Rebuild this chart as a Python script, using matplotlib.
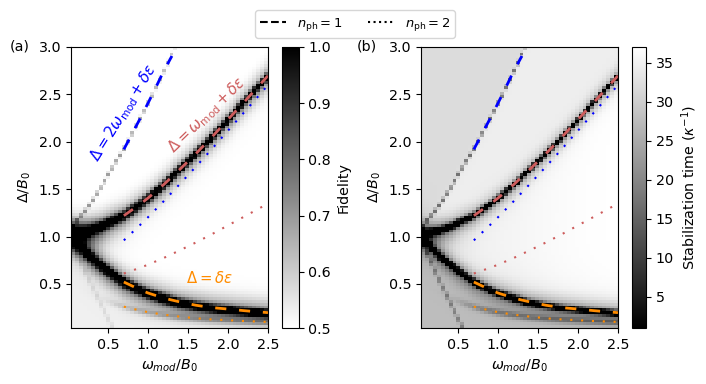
import numpy as np
import matplotlib
matplotlib.use('Agg')
from matplotlib import pyplot as plt
from matplotlib.lines import Line2D

# resonance ridges (Delta/B0 at each omega_mod/B0)
w_ridge = [0.05, 0.125, 0.25, 0.42, 0.58, 0.7, 0.8, 0.9, 1.0, 1.2, 1.4, 1.6, 1.8, 2.0, 2.2, 2.5]
ridge_n0 = [1.0, 0.93, 0.81, 0.69, 0.595, 0.52, 0.475, 0.435, 0.40, 0.345, 0.30, 0.27, 0.245, 0.228, 0.212, 0.19]
ridge_n1 = [1.03, 1.045, 1.06, 1.11, 1.175, 1.22, 1.28, 1.34, 1.405, 1.55, 1.71, 1.875, 2.05, 2.235, 2.418, 2.697]
ridge_n2 = [1.08, 1.18, 1.31, 1.53, 1.755, 1.92, 2.08, 2.24, 2.405, 2.75, 3.11, 3.475, 3.85, 4.235, 4.62, 5.2]
ridge_m1 = [0.95, 0.805, 0.56, 0.27, 0.015, -0.18, -0.32, -0.46, -0.6, -0.85, -1.1, -1.33, -1.55, -1.77, -1.98, -2.3]

# overlaid resonance conditions
w_line = [0.7, 0.8, 0.9, 1.0, 1.2, 1.4, 1.6, 1.8, 2.0, 2.2, 2.35, 2.5]
orange_dash = [0.52, 0.48, 0.44, 0.405, 0.35, 0.31, 0.275, 0.25, 0.235, 0.218, 0.207, 0.197]
red_dash = [1.22, 1.28, 1.34, 1.405, 1.55, 1.71, 1.875, 2.05, 2.235, 2.418, 2.557, 2.697]
orange_dot = [0.26, 0.24, 0.22, 0.2025, 0.175, 0.155, 0.1375, 0.125, 0.1175, 0.109, 0.1035, 0.0985]
red_dot = [0.61, 0.64, 0.67, 0.7025, 0.775, 0.855, 0.9375, 1.025, 1.1175, 1.209, 1.2785, 1.3485]
blue_dot = [0.96, 1.04, 1.12, 1.2025, 1.375, 1.555, 1.7375, 1.925, 2.1175, 2.309, 2.4535, 2.5985]
w_blue = [0.7, 0.8, 0.9, 1.0, 1.1, 1.2, 1.3]
blue_dash = [1.92, 2.08, 2.24, 2.405, 2.575, 2.75, 2.905]

# grid of the simulation maps
w_edges = np.linspace(0.04, 2.5, 51)
d_edges = np.linspace(0.035, 3.0, 101)


def gauss(d, s):
    return np.exp(-0.5*(d/s)**2)


def tail(d, s):
    return np.where(d > 0, np.exp(-np.clip(d, 0, None)/s), 0.)


def step(d, s=0.03):
    return 1./(1.+np.exp(-d/s))


def darkness(panel):
    ''' darkness (0 white .. 1 black) of the map, built around the ridges '''
    wc = 0.5*(w_edges[1:]+w_edges[:-1])
    dc = 0.5*(d_edges[1:]+d_edges[:-1])
    W, D = np.meshgrid(wc, dc)
    r0 = np.interp(W, w_ridge, ridge_n0)
    r1 = np.interp(W, w_ridge, ridge_n1)
    r2 = np.interp(W, w_ridge, ridge_n2)
    rm = np.interp(W, w_ridge, ridge_m1)
    sc = np.interp(W, [0.05, 0.7, 2.5], [0.04, 0.035, 0.028])
    core = np.interp(W, [0.05, 0.4, 0.8], [0.85, 0.95, 1.05])
    halo = np.interp(W, [0.05, 0.5, 0.9], [0.5, 0.4, 0.3])
    fan = np.exp(-0.5*((W/0.3)**2 + ((D-1.0)/0.12)**2))
    low = tail(r0-D, 0.12) * step(D-0.07, 0.02)
    half = gauss(D-r0/2, 0.025) * step(W-0.6, 0.1)
    if panel == 'a':
        a2 = np.interp(W, [0.05, 0.7, 1.35], [0.38, 0.38, 0.22])
        S = (core*gauss(D-r0, sc) + core*gauss(D-r1, sc)
             + halo*gauss(D-r0, 0.1) + halo*gauss(D-r1, 0.1)
             + 0.15*tail(D-r0, 0.1) + 0.2*tail(r1-D, 0.12)
             + a2*gauss(D-r2, 0.016) + 0.08*gauss(D-rm, 0.03)
             + 0.35*fan + 0.3*low + 0.2*half
             + 0.06*step(r0-D))
    else:
        base = (0.26*step(r0-D) + 0.05*step(D-r0)*step(r1-D)*step(1.6-W, 0.3)
                + 0.07*step(D-r1)*step(r2-D) + 0.14*step(D-r2))
        S = (base + 1.1*gauss(D-r0, 0.7*sc) + 1.1*gauss(D-r1, 0.7*sc)
             + 0.6*halo*gauss(D-r0, 0.08) + 0.6*halo*gauss(D-r1, 0.08)
             + 0.2*tail(D-r0, 0.12) + 0.2*tail(r1-D, 0.10)
             + 0.45*gauss(D-r2, 0.016) + 0.25*gauss(D-rm, 0.025)
             + 0.2*fan + 0.15*low + 0.25*half)
    return np.clip(S, 0, 1)


def draw_lines(ax):
    dash = (0, (4, 4.6))
    dot = (0, (1, 4.2))
    ax.plot(w_blue, blue_dash, color='blue', lw=2, ls=dash)
    ax.plot(w_line, red_dash, color='indianred', lw=2, ls=dash)
    ax.plot(w_line, orange_dash, color='darkorange', lw=2, ls=dash)
    ax.plot(w_line, blue_dot, color='blue', lw=1.5, ls=dot)
    ax.plot(w_line, red_dot, color='indianred', lw=1.5, ls=dot)
    ax.plot(w_line, orange_dot, color='darkorange', lw=1.5, ls=dot)
    ax.set_xlim(w_edges[0], 2.5); ax.set_ylim(d_edges[0], 3.0)
    ax.set_xticks([0.5, 1.0, 1.5, 2.0, 2.5])
    ax.set_yticks([0.5, 1.0, 1.5, 2.0, 2.5, 3.0])
    ax.set_xlabel(r'$\omega_{mod}/B_0$'); ax.set_ylabel(r'$\Delta/B_0$')


plt.rcParams['font.size'] = 10.3
fig = plt.figure(figsize=(7.06, 3.84), dpi=100)
H = 281/384; B = 56/384
ax1 = fig.add_axes([71/706, B, 197/706, H])
cax1 = fig.add_axes([282/706, B, 16.5/706, H])
ax2 = fig.add_axes([421/706, B, 197/706, H])
cax2 = fig.add_axes([632/706, B, 14/706, H])

# (a) fidelity
fid = 0.5 + 0.5*darkness('a')
m1 = ax1.pcolormesh(w_edges, d_edges, fid, cmap='gray_r', vmin=0.5, vmax=1.0)
draw_lines(ax1)
ax1.text(0.70, 2.30, r'$\Delta=2\omega_{\rm mod}+\delta\varepsilon$', color='blue',
         rotation=58, ha='center', va='center', fontsize=10.7)
ax1.text(1.74, 2.28, r'$\Delta=\omega_{\rm mod}+\delta\varepsilon$', color='indianred',
         rotation=44, ha='center', va='center', fontsize=10.7)
ax1.text(1.775, 0.56, r'$\Delta=\delta\varepsilon$', color='darkorange',
         ha='center', va='center', fontsize=10.7)
cb1 = fig.colorbar(m1, cax=cax1, ticks=[0.5, 0.6, 0.7, 0.8, 0.9, 1.0])
cb1.set_label('Fidelity')

# (b) stabilization time
tstab = 37. - 36.*darkness('b')
m2 = ax2.pcolormesh(w_edges, d_edges, tstab, cmap='gray', vmin=1, vmax=37)
draw_lines(ax2)
cb2 = fig.colorbar(m2, cax=cax2, ticks=[5, 10, 15, 20, 25, 30, 35])
cb2.set_label(r'Stabilization time ($\kappa^{-1}$)')

fig.text(20/706, 1-47/384, '(a)', ha='center', va='center')
fig.text(367/706, 1-47/384, '(b)', ha='center', va='center')

handles = [Line2D([], [], color='k', ls='--', lw=1.5, label=r'$n_{\rm ph}=1$'),
           Line2D([], [], color='k', ls=':', lw=1.5, label=r'$n_{\rm ph}=2$')]
fig.legend(handles=handles, loc='upper center', ncol=2, bbox_to_anchor=(0.503, 0.99),
           fontsize=9.4)

plt.savefig('out.png', dpi=100)
